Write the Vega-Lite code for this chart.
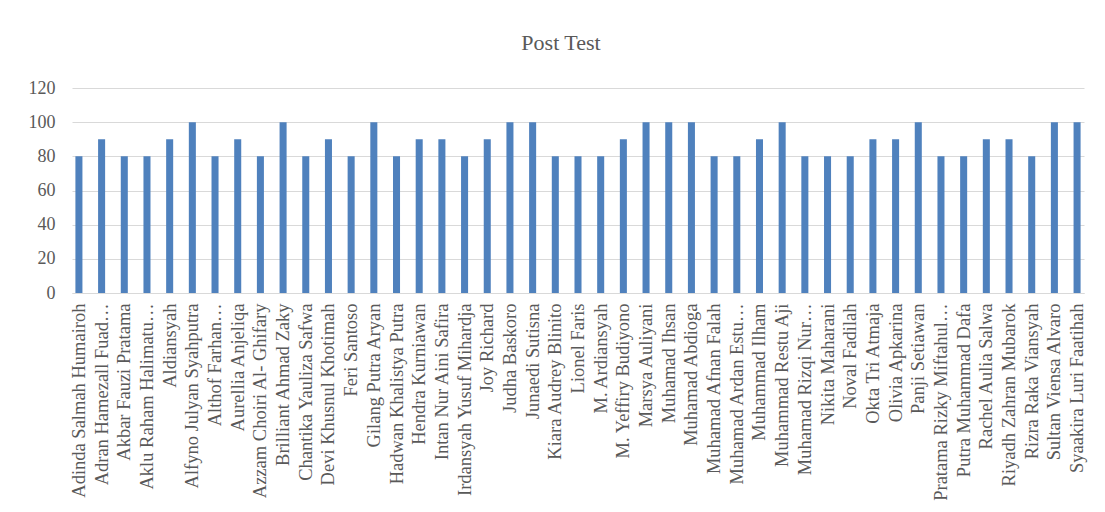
{
  "$schema": "https://vega.github.io/schema/vega-lite/v6.json",
  "width": 1012,
  "height": 205,
  "autosize": {"type": "none"},
  "padding": {"left": 72, "top": 88, "right": 21, "bottom": 219},
  "background": "white",
  "title": {
    "text": "Post Test",
    "font": "Liberation Serif",
    "fontSize": 22,
    "fontWeight": "normal",
    "color": "#595959",
    "anchor": "middle",
    "frame": "group",
    "dx": -17,
    "offset": 24
  },
  "config": {
    "view": {"stroke": null}
  },
  "data": {
    "values": [
      {"name": "Adinda Salmah Humairoh", "score": 80},
      {"name": "Adran Hamezall Fuad…", "score": 90},
      {"name": "Akbar Fauzi Pratama", "score": 80},
      {"name": "Aklu Raham Halimatu…", "score": 80},
      {"name": "Aldiansyah", "score": 90},
      {"name": "Alfyno Julyan Syahputra", "score": 100},
      {"name": "Althof Farhan…", "score": 80},
      {"name": "Aurellia Anjeliqa", "score": 90},
      {"name": "Azzam Choiri Al- Ghifary", "score": 80},
      {"name": "Brilliant  Ahmad Zaky", "score": 100},
      {"name": "Chantika Yauliza Safwa", "score": 80},
      {"name": "Devi Khusnul Khotimah", "score": 90},
      {"name": "Feri Santoso", "score": 80},
      {"name": "Gilang Putra Aryan", "score": 100},
      {"name": "Hadwan Khalistya Putra", "score": 80},
      {"name": "Hendra Kurniawan", "score": 90},
      {"name": "Intan Nur Aini Safira", "score": 90},
      {"name": "Irdansyah Yusuf Mihardja", "score": 80},
      {"name": "Joy Richard", "score": 90},
      {"name": "Judha Baskoro", "score": 100},
      {"name": "Junaedi Sutisna", "score": 100},
      {"name": "Kiara Audrey Blinito", "score": 80},
      {"name": "Lionel Faris", "score": 80},
      {"name": "M. Ardiansyah", "score": 80},
      {"name": "M. Yeffiry Budiyono", "score": 90},
      {"name": "Marsya Auliyani", "score": 100},
      {"name": "Muhamad  Ihsan", "score": 100},
      {"name": "Muhamad Abdioga", "score": 100},
      {"name": "Muhamad Afnan Falah", "score": 80},
      {"name": "Muhamad Ardan Estu…", "score": 80},
      {"name": "Muhammad Ilham", "score": 90},
      {"name": "Muhammad Restu Aji", "score": 100},
      {"name": "Muhamad Rizqi Nur…", "score": 80},
      {"name": "Nikita Maharani", "score": 80},
      {"name": "Noval Fadilah", "score": 80},
      {"name": "Okta Tri Atmaja", "score": 90},
      {"name": "Olivia Apkarina", "score": 90},
      {"name": "Panji Setiawan", "score": 100},
      {"name": "Pratama Rizky Miftahul…", "score": 80},
      {"name": "Putra Muhammad Dafa", "score": 80},
      {"name": "Rachel  Aulia Salwa", "score": 90},
      {"name": "Riyadh  Zahran  Mubarok", "score": 90},
      {"name": "Rizra Raka Viansyah", "score": 80},
      {"name": "Sultan Viensa Alvaro", "score": 100},
      {"name": "Syaakira Luri Faatihah", "score": 100}
    ]
  },
  "mark": {"type": "bar", "color": "#4f81bd"},
  "encoding": {
    "x": {
      "field": "name",
      "type": "nominal",
      "sort": null,
      "title": null,
      "scale": {"paddingInner": 0.69, "paddingOuter": 0.15},
      "axis": {
        "labelAngle": -90,
        "labelFont": "Liberation Serif",
        "labelColor": "#595959",
        "labelFontSize": 18.5,
        "labelLimit": 0,
        "labelPadding": 10,
        "ticks": false,
        "domainColor": "#d9d9d9",
        "domainWidth": 1
      }
    },
    "y": {
      "field": "score",
      "type": "quantitative",
      "title": null,
      "scale": {"domain": [0, 120]},
      "axis": {
        "values": [0, 20, 40, 60, 80, 100, 120],
        "labelFont": "Liberation Serif",
        "labelColor": "#595959",
        "labelFontSize": 18,
        "labelPadding": 17,
        "ticks": false,
        "domain": false,
        "gridColor": "#d9d9d9",
        "gridWidth": 1
      }
    }
  }
}
